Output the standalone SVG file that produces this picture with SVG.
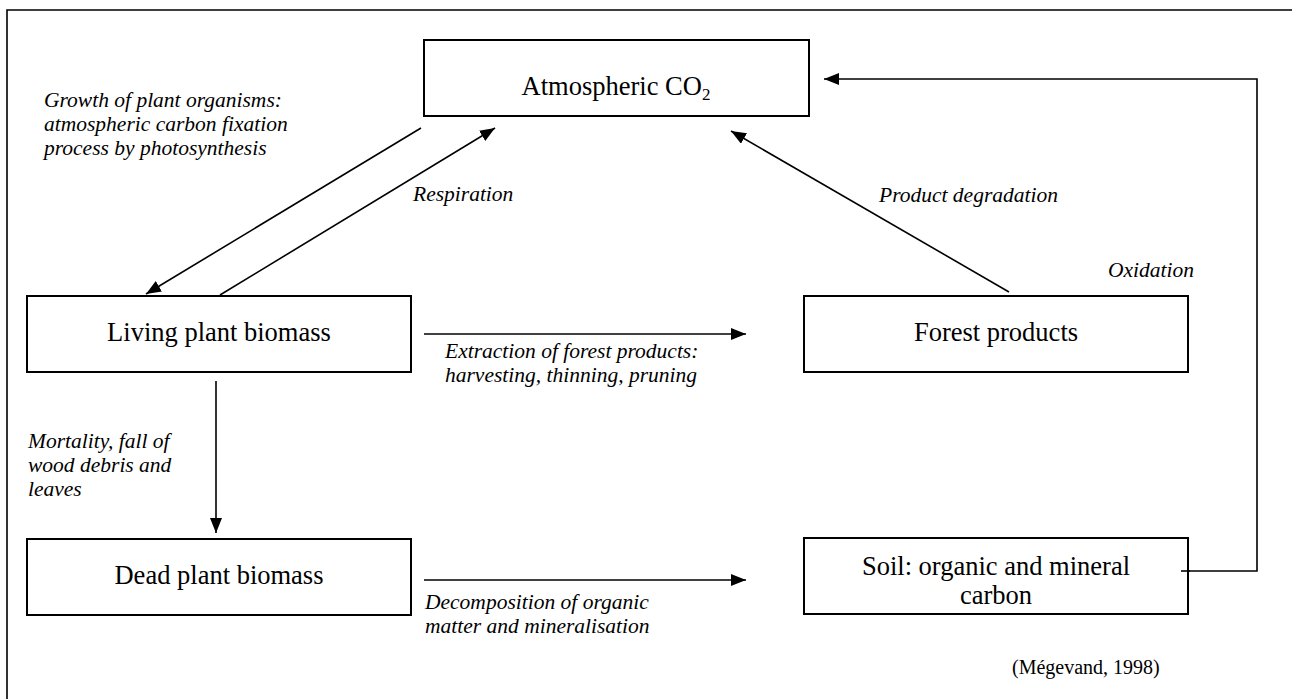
<svg xmlns="http://www.w3.org/2000/svg" width="1292" height="699" viewBox="0 0 1292 699">
<style>
.box{fill:#fff;stroke:#000;stroke-width:2}
.t{font-family:"Liberation Serif","Times New Roman",serif;font-size:26.5px;fill:#000}
.l{font-family:"Liberation Serif","Times New Roman",serif;font-size:21.5px;font-style:italic;fill:#000}
.c{fill:none;stroke:#000;stroke-width:1.6}
.src{font-family:"Liberation Serif","Times New Roman",serif;font-size:20px;fill:#000}
</style>
<defs>
<marker id="ah" markerUnits="userSpaceOnUse" markerWidth="16" markerHeight="12" refX="15" refY="6" orient="auto">
<path d="M0,0 L15,6 L0,12 z" fill="#000"/>
</marker>
</defs>
<rect width="1292" height="699" fill="#fff"/>
<path d="M7,710 V10 H1300" fill="none" stroke="#000" stroke-width="1.6"/>

<g id="connectors">
<line class="c" x1="421" y1="128" x2="146" y2="294" marker-end="url(#ah)"/>
<line class="c" x1="220" y1="295" x2="495" y2="128" marker-end="url(#ah)"/>
<line class="c" x1="1009" y1="292" x2="731" y2="131" marker-end="url(#ah)"/>
<line class="c" x1="424" y1="334" x2="746" y2="334" marker-end="url(#ah)"/>
<line class="c" x1="424" y1="580" x2="746" y2="580" marker-end="url(#ah)"/>
<line class="c" x1="216" y1="381" x2="216" y2="533" marker-end="url(#ah)"/>
<polyline class="c" points="1181,571 1257,571 1257,79 824,79" marker-end="url(#ah)"/>
</g>

<g id="labels">
<text class="l" x="44" y="107">Growth of plant organisms:</text>
<text class="l" x="44" y="131">atmospheric carbon fixation</text>
<text class="l" x="44" y="155">process by photosynthesis</text>
<text class="l" x="413" y="201">Respiration</text>
<text class="l" x="879" y="202">Product degradation</text>
<text class="l" x="1108" y="277">Oxidation</text>
<text class="l" x="445" y="358">Extraction of forest products:</text>
<text class="l" x="445" y="382">harvesting, thinning, pruning</text>
<text class="l" x="28" y="448">Mortality, fall of</text>
<text class="l" x="28" y="472">wood debris and</text>
<text class="l" x="28" y="496">leaves</text>
<text class="l" x="425" y="609">Decomposition of organic</text>
<text class="l" x="425" y="633">matter and mineralisation</text>
<text class="src" x="1012" y="674">(Mégevand, 1998)</text>
</g>

<g id="atmospheric-co2">
<rect class="box" x="424" y="40" width="385" height="76"/>
<text class="t" x="616" y="95" text-anchor="middle">Atmospheric CO<tspan font-size="17" dy="5">2</tspan></text>
</g>
<g id="living-plant-biomass">
<rect class="box" x="27" y="296" width="384" height="76"/>
<text class="t" x="219" y="341" text-anchor="middle">Living plant biomass</text>
</g>
<g id="forest-products">
<rect class="box" x="804" y="296" width="384" height="76"/>
<text class="t" x="996" y="341" text-anchor="middle">Forest products</text>
</g>
<g id="dead-plant-biomass">
<rect class="box" x="27" y="539" width="384" height="76"/>
<text class="t" x="219" y="584" text-anchor="middle">Dead plant biomass</text>
</g>
<g id="soil">
<rect class="box" x="804" y="538" width="384" height="76"/>
<text class="t" x="996" y="575" text-anchor="middle">Soil: organic and mineral</text>
<text class="t" x="996" y="604" text-anchor="middle">carbon</text>
</g>
<line class="c" x1="1181" y1="571" x2="1190" y2="571"/>
</svg>
